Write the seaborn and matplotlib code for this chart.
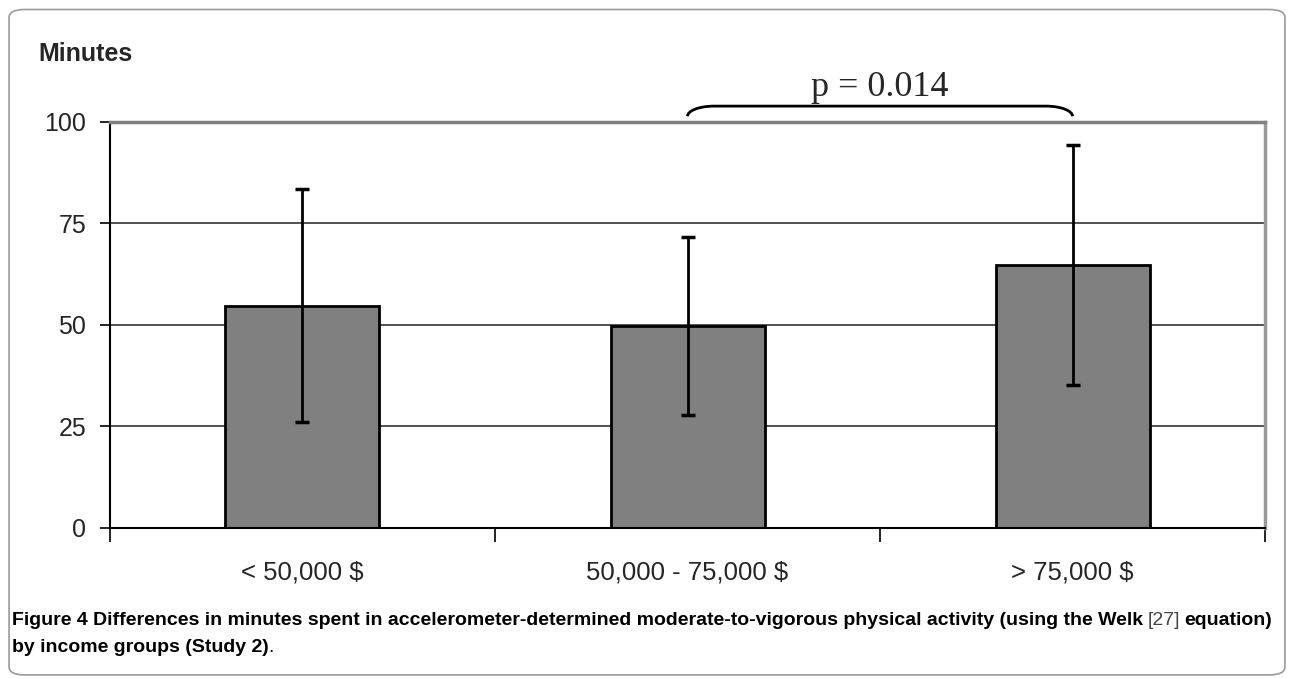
import matplotlib
matplotlib.use("Agg")
import matplotlib.pyplot as plt
import seaborn as sns
import pandas as pd
from matplotlib.patches import FancyBboxPatch, PathPatch
from matplotlib.path import Path

# data
groups = ["< 50,000 $", "50,000 - 75,000 $", "> 75,000 $"]
mean_minutes = [54.7, 49.7, 64.8]
sd_minutes = [28.7, 21.9, 29.6]
y_ticks = [0, 25, 50, 75, 100]
p_label = "p = 0.014"

sns.set_style("white")
plt.rcParams["font.family"] = ["Liberation Sans", "DejaVu Sans"]

df = pd.DataFrame({"group": groups, "minutes": mean_minutes, "sd": sd_minutes})

fig = plt.figure(figsize=(12.94, 6.79), dpi=100)
ax = fig.add_axes([0.085, 0.2224, 0.8926, 0.598])

sns.barplot(data=df, x="group", y="minutes", color="#808080", saturation=1,
            edgecolor="black", linewidth=2, width=0.4, errorbar=None, ax=ax, zorder=2)
ax.errorbar(range(len(groups)), df["minutes"], yerr=df["sd"], fmt="none",
            ecolor="black", elinewidth=2, capsize=5, capthick=2.5, zorder=3)

ax.set_xlim(-0.5, len(groups) - 0.5)
ax.set_ylim(0, 100)
ax.set_yticks(y_ticks)
ax.set_xlabel("")
ax.set_ylabel("")
ax.yaxis.grid(True, color="#222222", linewidth=1.1)
ax.set_axisbelow(True)

ax.tick_params(axis="y", left=True, length=7, width=1.2, color="black",
               labelsize=18, pad=10)
ax.tick_params(axis="x", bottom=False, labelsize=18.5, pad=20)
ax.set_xticks([i - 0.5 for i in range(len(groups) + 1)], minor=True)
ax.tick_params(axis="x", which="minor", bottom=True, length=10, width=1.2,
               color="black", direction="out")

for s, (c, w) in {"left": ("black", 1.5), "bottom": ("black", 1.5),
                  "top": ("#808080", 2.5), "right": ("#999999", 2.5)}.items():
    ax.spines[s].set_visible(True)
    ax.spines[s].set_color(c)
    ax.spines[s].set_linewidth(w)

# brace between the 2nd and 3rd groups
x0, x1, yb, yt, dx = 1.0, 2.0, 101.4, 103.9, 0.07
verts = [(x0, yb), (x0, yt - 1.2), (x0 + dx * 0.4, yt), (x0 + dx, yt),
         (x1 - dx, yt), (x1 - dx * 0.4, yt), (x1, yt - 1.2), (x1, yb)]
codes = [Path.MOVETO, Path.CURVE4, Path.CURVE4, Path.CURVE4,
         Path.LINETO, Path.CURVE4, Path.CURVE4, Path.CURVE4]
ax.add_patch(PathPatch(Path(verts, codes), fill=False, edgecolor="black",
                       linewidth=2, clip_on=False))
ax.text(1.5, 104.4, p_label, ha="center", va="bottom", fontsize=26,
        family=["Liberation Serif", "DejaVu Serif"])

fig.text(0.030, 0.921, "Minutes", fontsize=18, fontweight="bold", va="center")

# caption, pieces laid out one after another on each line
cap_size = 14
lines = [
    (0.074, [("Figure 4 Differences in minutes spent in accelerometer-determined "
              "moderate-to-vigorous physical activity (using the Welk ", "bold", "black", 0),
             ("[27]", "normal", "#444444", 0),
             ("equation)", "bold", "black", 4)]),
    (0.034, [("by income groups (Study 2)", "bold", "black", 0),
             (".", "normal", "black", 0)]),
]
for ypos, pieces in lines:
    prev = None
    for txt, wt, col, gap in pieces:
        if prev is None:
            prev = fig.text(0.009, ypos, txt, fontsize=cap_size, fontweight=wt,
                            color=col, va="bottom")
        else:
            prev = ax.annotate(txt, xy=(1, 0), xycoords=prev, xytext=(gap, 0),
                               textcoords="offset pixels", fontsize=cap_size,
                               fontweight=wt, color=col, va="bottom", ha="left",
                               annotation_clip=False)

fig.patches.append(FancyBboxPatch((0.007, 0.006), 0.986, 0.98,
                                  boxstyle="round,pad=0,rounding_size=0.012",
                                  transform=fig.transFigure, fill=False,
                                  edgecolor="#9a9a9a", linewidth=1.2))

fig.savefig("out.png", dpi=100)
plt.close(fig)
